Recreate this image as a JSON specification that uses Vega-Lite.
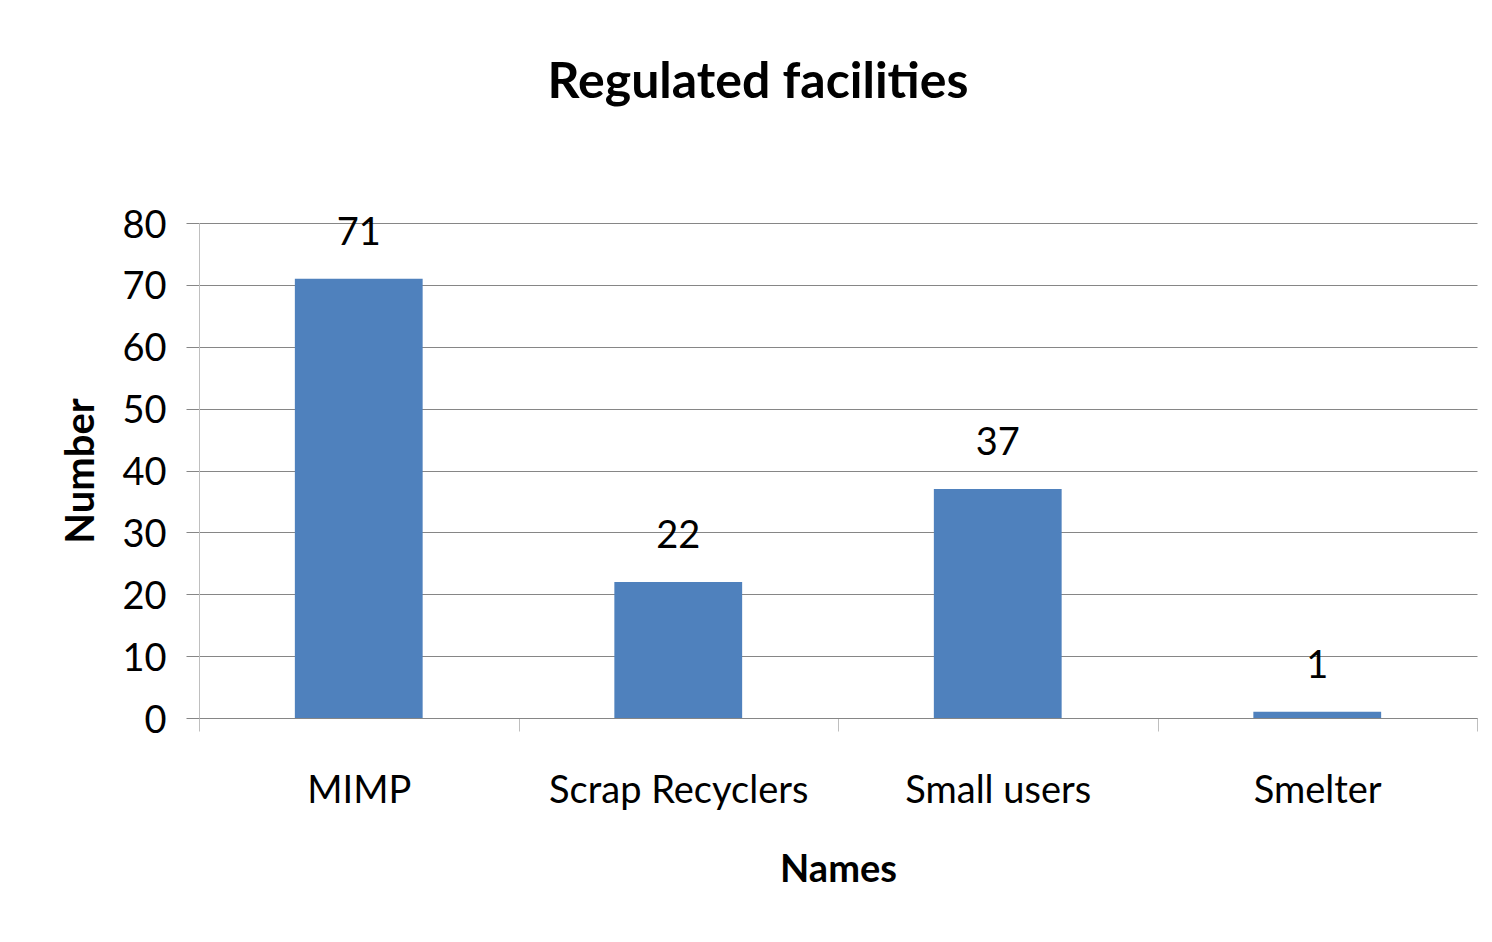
{
  "$schema": "https://vega.github.io/schema/vega-lite/v6.json",
  "width": 1278,
  "height": 495,
  "autosize": {"type": "none"},
  "padding": {"left": 199, "top": 223, "right": 15, "bottom": 224},
  "background": "white",
  "config": {"font": "Lato", "view": {"stroke": null}},
  "title": {"text": "Regulated facilities", "fontSize": 50, "fontWeight": "bold", "font": "Lato", "color": "black", "anchor": "middle", "dx": -80, "offset": 99},
  "data": {"values": [
    {"name": "MIMP", "value": 71},
    {"name": "Scrap Recyclers", "value": 22},
    {"name": "Small users", "value": 37},
    {"name": "Smelter", "value": 1}
  ]},
  "encoding": {
    "x": {"field": "name", "type": "nominal", "sort": null,
      "scale": {"paddingInner": 0, "paddingOuter": 0},
      "axis": {"title": "Names", "labelAngle": 0, "tickBand": "extent", "grid": false, "labelLimit": 0,
        "domainColor": "#868686", "tickColor": "#BFBFBF", "tickSize": 13,
        "labelFontSize": 38, "labelColor": "black", "labelPadding": 41,
        "titleFontSize": 38, "titleFontWeight": "bold", "titleColor": "black", "titlePadding": 41}},
    "y": {"field": "value", "type": "quantitative", "scale": {"domain": [0, 80]},
      "axis": {"title": "Number", "values": [0, 10, 20, 30, 40, 50, 60, 70, 80], "grid": true,
        "gridColor": "#868686", "domainColor": "#BFBFBF", "tickColor": "#868686", "tickSize": 13,
        "labelFontSize": 38, "labelColor": "black", "labelPadding": 20, "labelOffset": 3,
        "titleFontSize": 40, "titleFontWeight": "bold", "titleColor": "black", "titlePadding": 20}}
  },
  "layer": [
    {"mark": {"type": "bar", "color": "#4F81BD", "width": {"band": 0.4}}},
    {"mark": {"type": "text", "baseline": "alphabetic", "dy": -34, "fontSize": 38, "color": "black"},
     "encoding": {"text": {"field": "value", "type": "quantitative"}}}
  ]
}
